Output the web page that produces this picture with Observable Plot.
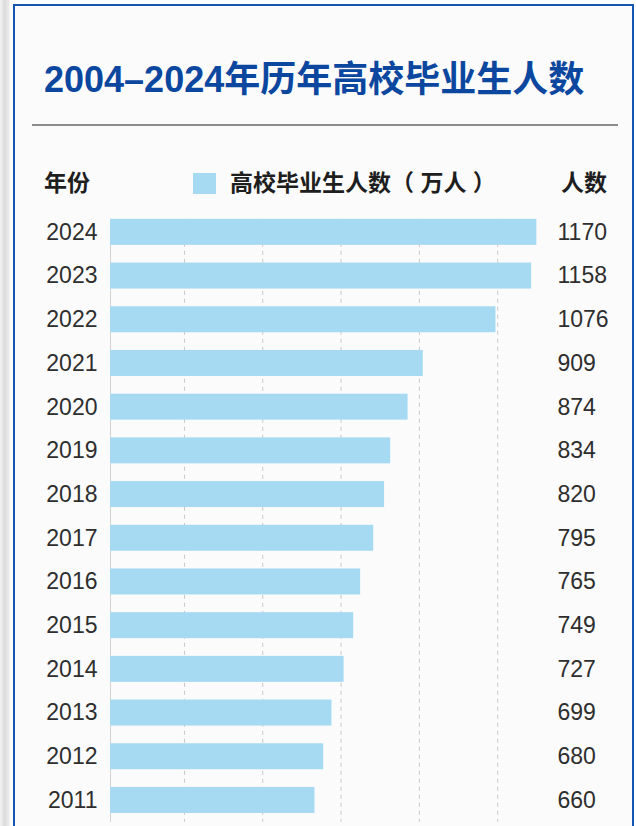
<!DOCTYPE html>
<html>
<head>
<meta charset="utf-8">
<script src="https://cdn.jsdelivr.net/npm/d3@7"></script>
<script src="https://cdn.jsdelivr.net/npm/@observablehq/plot@0.6"></script>
<style>
  html, body { margin: 0; padding: 0; background: #ffffff; }
  body { width: 636px; height: 826px; overflow: hidden; position: relative;
         font-family: "Liberation Sans", "Noto Sans CJK SC", sans-serif; }
  #shadow { position: absolute; left: 0; top: 0; width: 10px; height: 826px;
            background: linear-gradient(to right, #f4f4f4, #dcdcdc 45%, #f0f0f0); }
  #frame { position: absolute; left: 13px; top: 4px; width: 617px; height: 900px;
           border: 2px solid #1557b0; background: #fbfbfb; }
  #title { position: absolute; left: 44px; top: 59px; font-size: 36px; font-weight: bold;
           color: #0b479f; line-height: 42px; white-space: nowrap; }
  #rule { position: absolute; left: 32px; top: 124px; width: 586px; height: 2px; background: #8c8c8c; }
  .hdr { position: absolute; top: 170px; font-size: 23px; font-weight: bold; color: #1e1e1e;
         line-height: 26px; white-space: pre; }
  #swatch { position: absolute; left: 193px; top: 173px; width: 23px; height: 21px; background: #a6daf3; }
  #chart { position: absolute; left: 0; top: 200px; line-height: 0; }
</style>
</head>
<body>
<div id="shadow"></div>
<div id="frame"></div>
<div id="title">2004–2024年历年高校毕业生人数</div>
<div id="rule"></div>
<div class="hdr" style="left:44px">年份</div>
<div id="swatch"></div>
<div class="hdr" style="left:230px">高校毕业生人数（ 万人 ）</div>
<div class="hdr" style="left:561px">人数</div>
<div id="chart"></div>
<script>
const years = ["2024","2023","2022","2021","2020","2019","2018","2017","2016","2015","2014","2013","2012","2011"];
const graduates = [1170,1158,1076,909,874,834,820,795,765,749,727,699,680,660];
const gridTicks = [360, 540, 720, 900, 1080];
const baseValue = 190;

const data = years.map((y, i) => ({year: y, value: graduates[i]}));

const inset = 8.85;
const chart = Plot.plot({
  width: 636,
  height: 626,
  marginTop: 10,
  marginBottom: 4.2,
  marginLeft: 110,
  marginRight: 17,
  style: {background: "transparent", fontFamily: "'Liberation Sans', Arial, sans-serif"},
  x: {domain: [baseValue, 1360], axis: null},
  y: {type: "band", domain: years, padding: 0, round: false, label: null},
  marks: [
    Plot.ruleX(gridTicks, {stroke: "#c8c8c8", strokeWidth: 1, strokeDasharray: "4,4", insetTop: inset}),
    Plot.ruleX([baseValue], {stroke: "#d2d2d2", strokeWidth: 1, insetTop: inset}),
    Plot.barX(data, {x1: baseValue, x2: "value", y: "year", fill: "#a6daf3",
                     insetTop: inset, insetBottom: inset}),
    Plot.axisY({tickSize: 0, tickPadding: 13, fontSize: 23, fill: "#2e2e2e", label: null}),
    Plot.text(data, {y: "year", text: d => String(d.value), frameAnchor: "right",
                     textAnchor: "start", dx: -62, fontSize: 23, fill: "#2e2e2e"})
  ]
});
document.getElementById("chart").appendChild(chart);
</script>
</body>
</html>
